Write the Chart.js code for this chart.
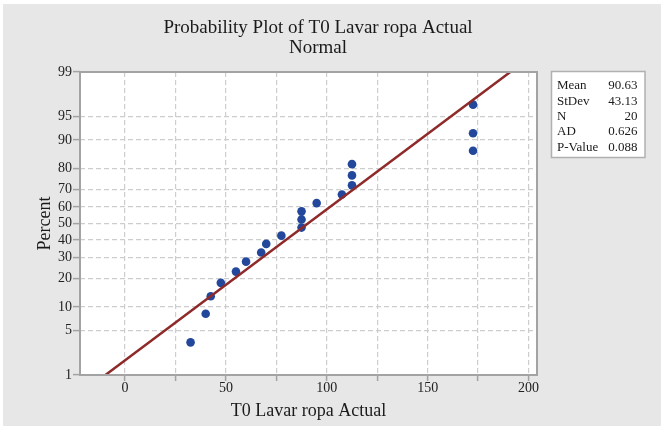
<!DOCTYPE html>
<html>
<head>
<meta charset="utf-8">
<script src="https://cdn.jsdelivr.net/npm/chart.js@4.4.1/dist/chart.umd.min.js"></script>
<style>
  html, body { margin: 0; padding: 0; background: #fff; }
  #wrap { position: absolute; left: 3px; top: 4px; width: 658px; height: 422px; }
</style>
</head>
<body>
<div id="wrap"><canvas id="probChart" width="658" height="422"></canvas></div>
<script>
// observed values (x) and their plotting positions (percent)
var xValues = [32.5, 40, 42.5, 47.5, 55, 60, 67.5, 70, 77.5, 87.5, 87.5, 87.5, 95, 107.5, 112.5, 112.5, 112.5, 172.5, 172.5, 172.5];
var percentValues = [3.4, 8.3, 13.2, 18.1, 23.0, 27.9, 32.8, 37.7, 42.6, 47.5, 52.5, 57.4, 62.3, 67.2, 72.1, 77.0, 81.9, 86.8, 91.7, 96.6];

// fitted normal line, end points
var fitX = [-9.70, 190.96];
var fitPercent = [1, 99];

var percentTicks = [1, 5, 10, 20, 30, 40, 50, 60, 70, 80, 90, 95, 99];
var xTicks = [0, 25, 50, 75, 100, 125, 150, 175, 200];
var xLabels = [0, 50, 100, 150, 200];

var statLabels = ['Mean', 'StDev', 'N', 'AD', 'P-Value'];
var statValues = ['90.63', '43.13', '20', '0.626', '0.088'];

var FONT = "'Liberation Serif', 'DejaVu Serif', serif";

// inverse normal cdf (Acklam), used to put percents on the probability scale
function probit(p) {
    var a = [-39.69683028665376, 220.9460984245205, -275.9285104469687, 138.3577518672690, -30.66479806614716, 2.506628277459239];
    var b = [-54.47609879822406, 161.5858368580409, -155.6989798598866, 66.80131188771972, -13.28068155288572];
    var c = [-0.007784894002430293, -0.3223964580411365, -2.400758277161838, -2.549732539343734, 4.374664141464968, 2.938163982698783];
    var d = [0.007784695709041462, 0.3224671290700398, 2.445134137142996, 3.754408661907416];
    var q, r;
    if (p < 0.02425) {
        q = Math.sqrt(-2 * Math.log(p));
        return (((((c[0]*q+c[1])*q+c[2])*q+c[3])*q+c[4])*q+c[5]) / ((((d[0]*q+d[1])*q+d[2])*q+d[3])*q+1);
    }
    if (p > 1 - 0.02425) {
        q = Math.sqrt(-2 * Math.log(1 - p));
        return -(((((c[0]*q+c[1])*q+c[2])*q+c[3])*q+c[4])*q+c[5]) / ((((d[0]*q+d[1])*q+d[2])*q+d[3])*q+1);
    }
    q = p - 0.5;
    r = q * q;
    return (((((a[0]*r+a[1])*r+a[2])*r+a[3])*r+a[4])*r+a[5])*q / (((((b[0]*r+b[1])*r+b[2])*r+b[3])*r+b[4])*r+1);
}

var pointData = xValues.map(function(x, i) {
    return { x: x, y: probit(percentValues[i] / 100) };
});
var fitData = fitX.map(function(x, i) {
    return { x: x, y: probit(fitPercent[i] / 100) };
});

var decorPlugin = {
    id: 'decor',
    beforeDraw: function(chart) {
        var ctx = chart.ctx;
        ctx.save();
        ctx.fillStyle = '#e7e7e7';
        ctx.fillRect(0, 0, chart.width, chart.height);
        ctx.fillStyle = '#ffffff';
        var a = chart.chartArea;
        ctx.fillRect(a.left, a.top, a.right - a.left, a.bottom - a.top);
        ctx.restore();
    },
    afterDraw: function(chart) {
        var ctx = chart.ctx;
        var a = chart.chartArea;
        ctx.save();

        // plot frame
        ctx.strokeStyle = '#a3a3a3';
        ctx.lineWidth = 2;
        ctx.strokeRect(a.left, a.top, a.right - a.left, a.bottom - a.top);

        // title
        ctx.fillStyle = '#1a1a1a';
        ctx.font = '19px ' + FONT;
        ctx.textAlign = 'center';
        ctx.textBaseline = 'alphabetic';
        ctx.fillText('Probability Plot of T0 Lavar ropa Actual', 315, 28.5);
        ctx.fillText('Normal', 315, 49);

        // stats box
        ctx.fillStyle = '#ffffff';
        ctx.fillRect(548.5, 67.5, 93.5, 86);
        ctx.strokeStyle = '#b0b0b0';
        ctx.lineWidth = 1.5;
        ctx.strokeRect(548.5, 67.5, 93.5, 86);
        ctx.fillStyle = '#1a1a1a';
        ctx.font = '13px ' + FONT;
        ctx.textBaseline = 'middle';
        for (var i = 0; i < statLabels.length; i++) {
            var y = 82 + i * 15.3;
            ctx.textAlign = 'left';
            ctx.fillText(statLabels[i], 554, y);
            ctx.textAlign = 'right';
            ctx.fillText(statValues[i], 634.5, y);
        }
        ctx.restore();
    }
};

var ctx = document.getElementById('probChart').getContext('2d');
var probChart = new Chart(ctx, {
    type: 'scatter',
    data: {
        datasets: [
            {
                label: 'Fit',
                data: fitData,
                showLine: true,
                borderColor: '#8f2a2a',
                borderWidth: 2.5,
                pointRadius: 0,
                fill: false
            },
            {
                label: 'T0 Lavar ropa Actual',
                data: pointData,
                backgroundColor: '#22479b',
                borderColor: '#22479b',
                pointRadius: 4.3,
                borderWidth: 0
            }
        ]
    },
    options: {
        responsive: false,
        animation: false,
        layout: { padding: { left: 0, right: 124, top: 68, bottom: 0 } },
        plugins: {
            legend: { display: false },
            tooltip: { enabled: false }
        },
        scales: {
            x: {
                type: 'linear',
                min: -22.3,
                max: 204.2,
                afterBuildTicks: function(scale) {
                    scale.ticks = xTicks.map(function(v) { return { value: v }; });
                },
                afterFit: function(scale) { scale.height = 51; },
                ticks: {
                    autoSkip: false,
                    maxRotation: 0,
                    padding: 0,
                    color: '#222',
                    font: { family: FONT, size: 14, lineHeight: 1 },
                    callback: function(value) {
                        return xLabels.indexOf(value) >= 0 ? String(value) : '';
                    }
                },
                grid: {
                    color: '#cdcdcd',
                    lineWidth: 1.2,
                    tickColor: '#a3a3a3',
                    tickLength: 6,
                    tickWidth: 1.5,
                    tickBorderDash: []
                },
                border: { display: false, dash: [5, 3] },
                title: {
                    display: true,
                    text: 'T0 Lavar ropa Actual',
                    color: '#1a1a1a',
                    font: { family: FONT, size: 18 },
                    padding: { top: 0, bottom: 3.5 }
                }
            },
            y: {
                type: 'linear',
                min: probit(0.01),
                max: probit(0.99),
                afterBuildTicks: function(scale) {
                    scale.ticks = percentTicks.map(function(p) { return { value: probit(p / 100) }; });
                },
                afterFit: function(scale) { scale.width = 77; },
                ticks: {
                    autoSkip: false,
                    padding: 1,
                    color: '#222',
                    font: { family: FONT, size: 14, lineHeight: 1 },
                    callback: function(value, index) {
                        return String(percentTicks[index]);
                    }
                },
                grid: {
                    color: '#cdcdcd',
                    lineWidth: 1.2,
                    tickColor: '#a3a3a3',
                    tickLength: 7,
                    tickWidth: 1.5,
                    tickBorderDash: []
                },
                border: { display: false, dash: [5, 3] },
                title: {
                    display: true,
                    text: 'Percent',
                    color: '#1a1a1a',
                    font: { family: FONT, size: 18 },
                    padding: { top: 31, bottom: 0 }
                }
            }
        }
    },
    plugins: [decorPlugin]
});
</script>
</body>
</html>
